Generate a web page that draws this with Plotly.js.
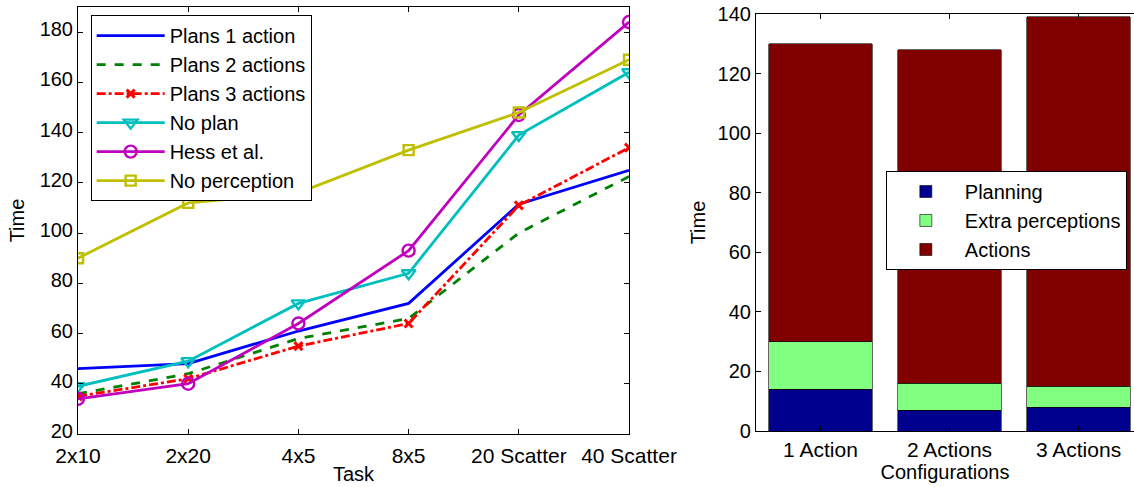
<!DOCTYPE html>
<html>
<head>
<meta charset="utf-8">
<script src="https://cdn.plot.ly/plotly-3.0.1.min.js"></script>
<style>
  html, body { margin: 0; padding: 0; background: #fff; }
  #chart { width: 1134px; height: 487px; }
</style>
</head>
<body>
<div id="chart"></div>
<script>
// ---- Data ----
const tasks = ['2x10', '2x20', '4x5', '8x5', '20 Scatter', '40 Scatter'];
const plans1 = [46, 48, 61, 72, 111.5, 125];
const plans2 = [36, 44, 58, 66, 100, 122.5];
const plans3 = [35, 42, 55, 64, 111, 134];
const noPlan = [39, 49, 72, 84, 139, 164];
const hess = [34, 40, 64, 93, 147, 184];
const noPerception = [90, 112, 116, 133, 148, 169];

const configs = ['1 Action', '2 Actions', '3 Actions'];
const planning = [14, 7, 8];
const extraPerceptions = [16, 9, 7];
const actions = [100, 112, 124];

const FONT = 'Liberation Sans, Arial, Helvetica, sans-serif';
const LW = 2.8;

function line(name, y, color, dash, marker) {
  const t = {
    type: 'scatter', mode: marker ? 'lines+markers' : 'lines',
    name: name, x: tasks, y: y, xaxis: 'x', yaxis: 'y', legend: 'legend',
    line: { color: color, width: LW, dash: dash }
  };
  if (marker) t.marker = marker;
  return t;
}

const traces = [
  line('Plans 1 action', plans1, '#0000ff', 'solid'),
  line('Plans 2 actions', plans2, '#008000', 'dash'),
  line('Plans 3 actions', plans3, '#ff0000', 'dashdot',
       { symbol: 'x-thin-open', size: 8, color: '#ff0000', line: { color: '#ff0000', width: 3 } }),
  line('No plan', noPlan, '#00bfbf', 'solid',
       { symbol: 'triangle-down-open', size: 12, color: '#00bfbf', line: { color: '#00bfbf', width: 2.4 } }),
  line('Hess et al.', hess, '#bf00bf', 'solid',
       { symbol: 'circle-open', size: 12, color: '#bf00bf', line: { color: '#bf00bf', width: 2.4 } }),
  line('No perception', noPerception, '#bfbf00', 'solid',
       { symbol: 'square-open', size: 10, color: '#bfbf00', line: { color: '#bfbf00', width: 2.4 } }),
  { type: 'bar', name: 'Planning', x: configs, y: planning, xaxis: 'x2', yaxis: 'y2', legend: 'legend2',
    marker: { color: '#00008f', line: { color: '#000', width: 0.6 } }, width: 0.8 },
  { type: 'bar', name: 'Extra perceptions', x: configs, y: extraPerceptions, xaxis: 'x2', yaxis: 'y2', legend: 'legend2',
    marker: { color: '#80ff80', line: { color: '#000', width: 0.6 } }, width: 0.8 },
  { type: 'bar', name: 'Actions', x: configs, y: actions, xaxis: 'x2', yaxis: 'y2', legend: 'legend2',
    marker: { color: '#800000', line: { color: '#000', width: 0.6 } }, width: 0.8 }
];

const axisCommon = {
  showline: true, linecolor: '#000', linewidth: 1,
  ticks: 'inside', ticklen: 5, tickcolor: '#000', tickwidth: 1,
  showgrid: false, zeroline: false,
  tickfont: { family: FONT, size: 20, color: '#000' }
};

const layout = {
  width: 1134, height: 487,
  margin: { l: 78, r: 0, t: 7, b: 53 },
  paper_bgcolor: '#fff', plot_bgcolor: '#fff',
  font: { family: FONT, size: 20, color: '#000' },
  barmode: 'stack',
  xaxis: Object.assign({}, axisCommon, {
    domain: [0, 0.5218], type: 'category', range: [0, 5], mirror: 'ticks',
    tickfont: { family: FONT, size: 21, color: '#000' }, ticklabelstandoff: 3,
    title: { text: 'Task', font: { family: FONT, size: 20 }, standoff: 0 }
  }),
  yaxis: Object.assign({}, axisCommon, {
    domain: [0, 1], range: [20, 190], tickvals: [20, 40, 60, 80, 100, 120, 140, 160, 180], mirror: 'ticks',
    ticklabelshift: -3,
    title: { text: 'Time', font: { family: FONT, size: 20 }, standoff: 9 }
  }),
  xaxis2: Object.assign({}, axisCommon, {
    domain: [0.642, 1], anchor: 'y2', type: 'category', range: [-0.5, 2.43], mirror: 'ticks',
    tickfont: { family: FONT, size: 21, color: '#000' },
    title: { text: 'Configurations', font: { family: FONT, size: 20 }, standoff: 0 }
  }),
  yaxis2: Object.assign({}, axisCommon, {
    domain: [0.007, 0.9836], anchor: 'x2', range: [0, 140], tickvals: [0, 20, 40, 60, 80, 100, 120, 140],
    title: { text: 'Time', font: { family: FONT, size: 20 }, standoff: 6 }
  }),
  legend: {
    x: 0.012, y: 0.981, xanchor: 'left', yanchor: 'top',
    bgcolor: '#fff', bordercolor: '#000', borderwidth: 1,
    font: { family: FONT, size: 20, color: '#000' }, itemwidth: 68, tracegroupgap: 0
  },
  legend2: {
    x: 0.765, y: 0.616, xanchor: 'left', yanchor: 'top',
    bgcolor: '#fff', bordercolor: '#000', borderwidth: 1,
    font: { family: FONT, size: 20, color: '#000' }, itemwidth: 68, traceorder: 'normal'
  },
  showlegend: true
};

Plotly.newPlot('chart', traces, layout, { displayModeBar: false, staticPlot: true });
</script>
</body>
</html>
